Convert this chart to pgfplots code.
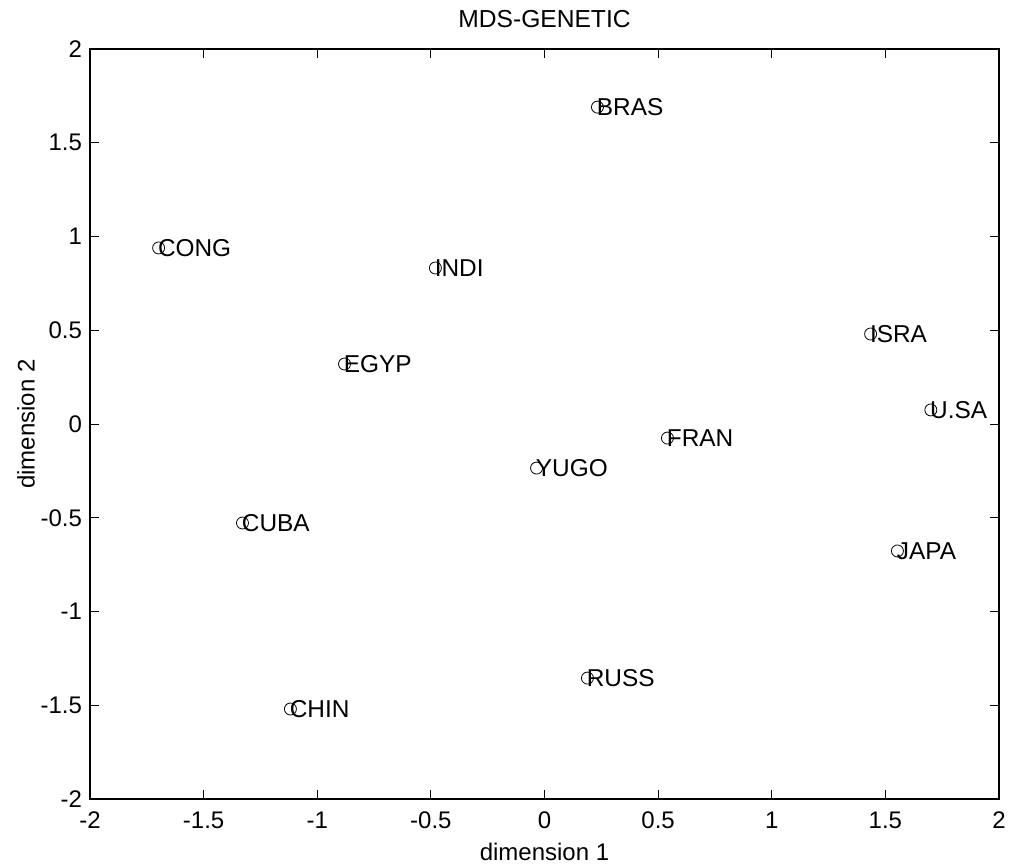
\documentclass[border=0pt]{standalone}
\usepackage{pgfplots}
\pgfplotsset{compat=1.18}
\usepackage{fontspec}
\setmainfont{Liberation Sans}
\begin{document}
\begin{tikzpicture}[font=\fontsize{12}{14}\selectfont]
\path[use as bounding box] (-45pt,-32pt) rectangle (462.5pt,399.5pt);
\begin{axis}[
  at={(0,0)}, anchor=south west,
  width=454.5pt, height=375pt, scale only axis,
  xmin=-2, xmax=2, ymin=-2, ymax=2,
  xtick={-2,-1.5,...,2}, ytick={-2,-1.5,...,2},
  tick align=inside, major tick length=4.5pt,
  xticklabels={-2,-1.5,-1,-0.5,0,0.5,1,1.5,2},
  yticklabels={-2,-1.5,-1,-0.5,0,0.5,1,1.5,2},
  tick label style={font=\fontsize{12}{14}\selectfont},
  xticklabel style={yshift=-3pt},
  yticklabel style={xshift=-0.5pt},
  title={MDS-GENETIC},
  title style={font=\fontsize{12.3}{14}\selectfont, at={(0.5,1)}, anchor=base, yshift=4.5pt},
  xlabel={dimension 1}, ylabel={dimension 2},
  xlabel style={yshift=0pt},
  ylabel style={yshift=-4pt},
  axis line style={line width=0.6pt},
  every tick/.style={black, line width=0.5pt},
  clip=false,
]
\addplot[only marks, mark=o, mark size=3pt, black, thin,
  point meta=explicit symbolic,
  nodes near coords,
  every node near coord/.style={anchor=west, inner sep=0pt, font=\fontsize{12.2}{14}\selectfont, xshift=-0.5pt}]
  table[meta=label] {
x y label
0.233 1.690 BRAS
-1.698 0.939 CONG
-0.480 0.832 INDI
1.435 0.480 ISRA
-0.880 0.320 EGYP
1.700 0.075 U.SA
0.541 -0.075 FRAN
-0.035 -0.235 YUGO
-1.329 -0.528 CUBA
1.553 -0.677 JAPA
0.189 -1.355 RUSS
-1.118 -1.520 CHIN
};
\end{axis}
\end{tikzpicture}
\end{document}
